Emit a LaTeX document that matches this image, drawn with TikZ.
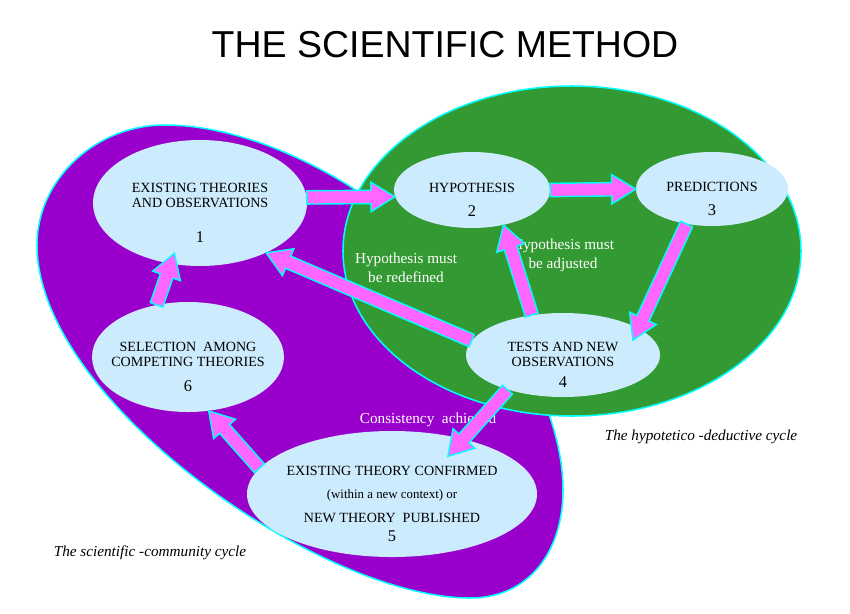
\documentclass[tikz,border=0pt]{standalone}
\usepackage{fontspec}
\setmainfont{Liberation Serif}
\newfontfamily\titlefont{Liberation Sans}
\usetikzlibrary{shapes.geometric, calc, positioning}
\definecolor{cyclepurple}{RGB}{153,0,204}
\definecolor{cyclegreen}{RGB}{51,153,51}
\definecolor{bubbleblue}{RGB}{204,235,252}
\definecolor{arrowpink}{RGB}{255,102,255}
\definecolor{rimcyan}{RGB}{0,255,255}

\tikzset{
  bubble/.style={ellipse, fill=bubbleblue, inner sep=0pt},
  bubbletext/.style={font=\fontsize{12}{13}\selectfont, align=center, text=black, yshift=-0.3cm},
  cyclerim/.style={draw=rimcyan, line width=1.3pt},
  fatarrow/.style={draw=rimcyan, fill=arrowpink, line width=1.2pt, line join=miter},
  greennote/.style={text=white, font=\fontsize{13}{16}\selectfont, align=center},
  cyclename/.style={font=\fontsize{13}{15}\selectfont\itshape},
  titletext/.style={font=\titlefont\fontsize{32}{36}\selectfont}
}

\newcommand{\stepnum}[1]{{\fontsize{14}{14}\selectfont #1}}
\newcommand{\blockarrow}[2]{%
  \path (#1) coordinate (fa-s) (#2) coordinate (fa-e);
  \path ($(fa-e)!0.72cm!(fa-s)$) coordinate (fa-h);
  \draw[fatarrow] ($(fa-s)!0.2cm!90:(fa-e)$) -- ($(fa-h)!0.2cm!90:(fa-e)$)
    -- ($(fa-h)!0.44cm!90:(fa-e)$) -- (fa-e) -- ($(fa-h)!0.44cm!-90:(fa-e)$)
    -- ($(fa-h)!0.2cm!-90:(fa-e)$) -- ($(fa-s)!0.2cm!-90:(fa-e)$) -- cycle;
}

\begin{document}
\begin{tikzpicture}[x=0.03cm, y=0.03cm]
  \useasboundingbox (0,0) rectangle (850,-613);

  % title
  \node[titletext] (title) at (445,-45) {THE SCIENTIFIC METHOD};

  % the two cycles
  \draw[cyclerim, fill=cyclepurple] (165,-125)
    .. controls (95,-125) and (37,-180) .. (37,-245)
    .. controls (37,-400) and (320,-598) .. (470,-598)
    .. controls (530,-598) and (563,-550) .. (563,-490)
    .. controls (563,-420) and (520,-330) .. (450,-270)
    .. controls (380,-190) and (260,-125) .. cycle;
  \draw[cyclerim, fill=cyclegreen] (572,-251) ellipse [x radius=6.87cm, y radius=4.95cm];

  % steps
  \node[bubble, minimum width=6.42cm, minimum height=3.78cm,
        label={[bubbletext]center:{EXISTING THEORIES\\AND OBSERVATIONS\\[17pt]\stepnum{1}}}] (n1) at (200,-203) {};
  \node[bubble, minimum width=4.68cm, minimum height=2.28cm,
        label={[bubbletext]center:{HYPOTHESIS\\[8pt]\stepnum{2}}}] (n2) at (472,-190) {};
  \node[bubble, minimum width=4.56cm, minimum height=2.22cm,
        label={[bubbletext]center:{PREDICTIONS\\[8pt]\stepnum{3}}}] (n3) at (712,-189) {};
  \node[bubble, minimum width=5.82cm, minimum height=2.52cm,
        label={[bubbletext]center:{TESTS AND NEW\\OBSERVATIONS\\[5pt]\stepnum{4}}}] (n4) at (563,-355) {};
  \node[bubble, minimum width=8.7cm, minimum height=3.78cm,
        label={[bubbletext]center:{EXISTING THEORY CONFIRMED\\[7pt]{\fontsize{11}{13}\selectfont (within a new context) or}\\[7pt]NEW THEORY\ \ PUBLISHED\\[4pt]\stepnum{5}}}] (n5) at (392,-494) {};
  \node[bubble, minimum width=5.76cm, minimum height=3.3cm,
        label={[bubbletext]center:{SELECTION\ \ AMONG\\COMPETING THEORIES\\[8pt]\stepnum{6}}}] (n6) at (188,-357) {};

  % notes
  \node[greennote] (redefine) at (406,-268) {Hypothesis must\\be redefined};
  \node[greennote] (adjust) at (563,-255) {Hypothesis must\\be adjusted};
  \node[greennote] (consistent) at (428,-420) {Consistency\ \ achieved};

  % arrows
  \blockarrow{n1.3}{n2.185}
  \blockarrow{n2.east}{n3.west}
  \blockarrow{n3.234}{$(n4)!0.8!(n4.12)$}
  \blockarrow{n4.128}{n2.312}
  \blockarrow{n4.171}{n1.323}
  \blockarrow{n4.212}{$(n5)!0.71!(n5.34)$}
  \blockarrow{n5.169}{n6.291}
  \blockarrow{n6.121}{$(n1)!0.83!(n1.243)$}

  % cycle names
  \node[cyclename] (hdcycle) at (701,-437) {The hypotetico -deductive cycle};
  \node[cyclename] (sccycle) at (150,-553) {The scientific -community cycle};
\end{tikzpicture}
\end{document}
